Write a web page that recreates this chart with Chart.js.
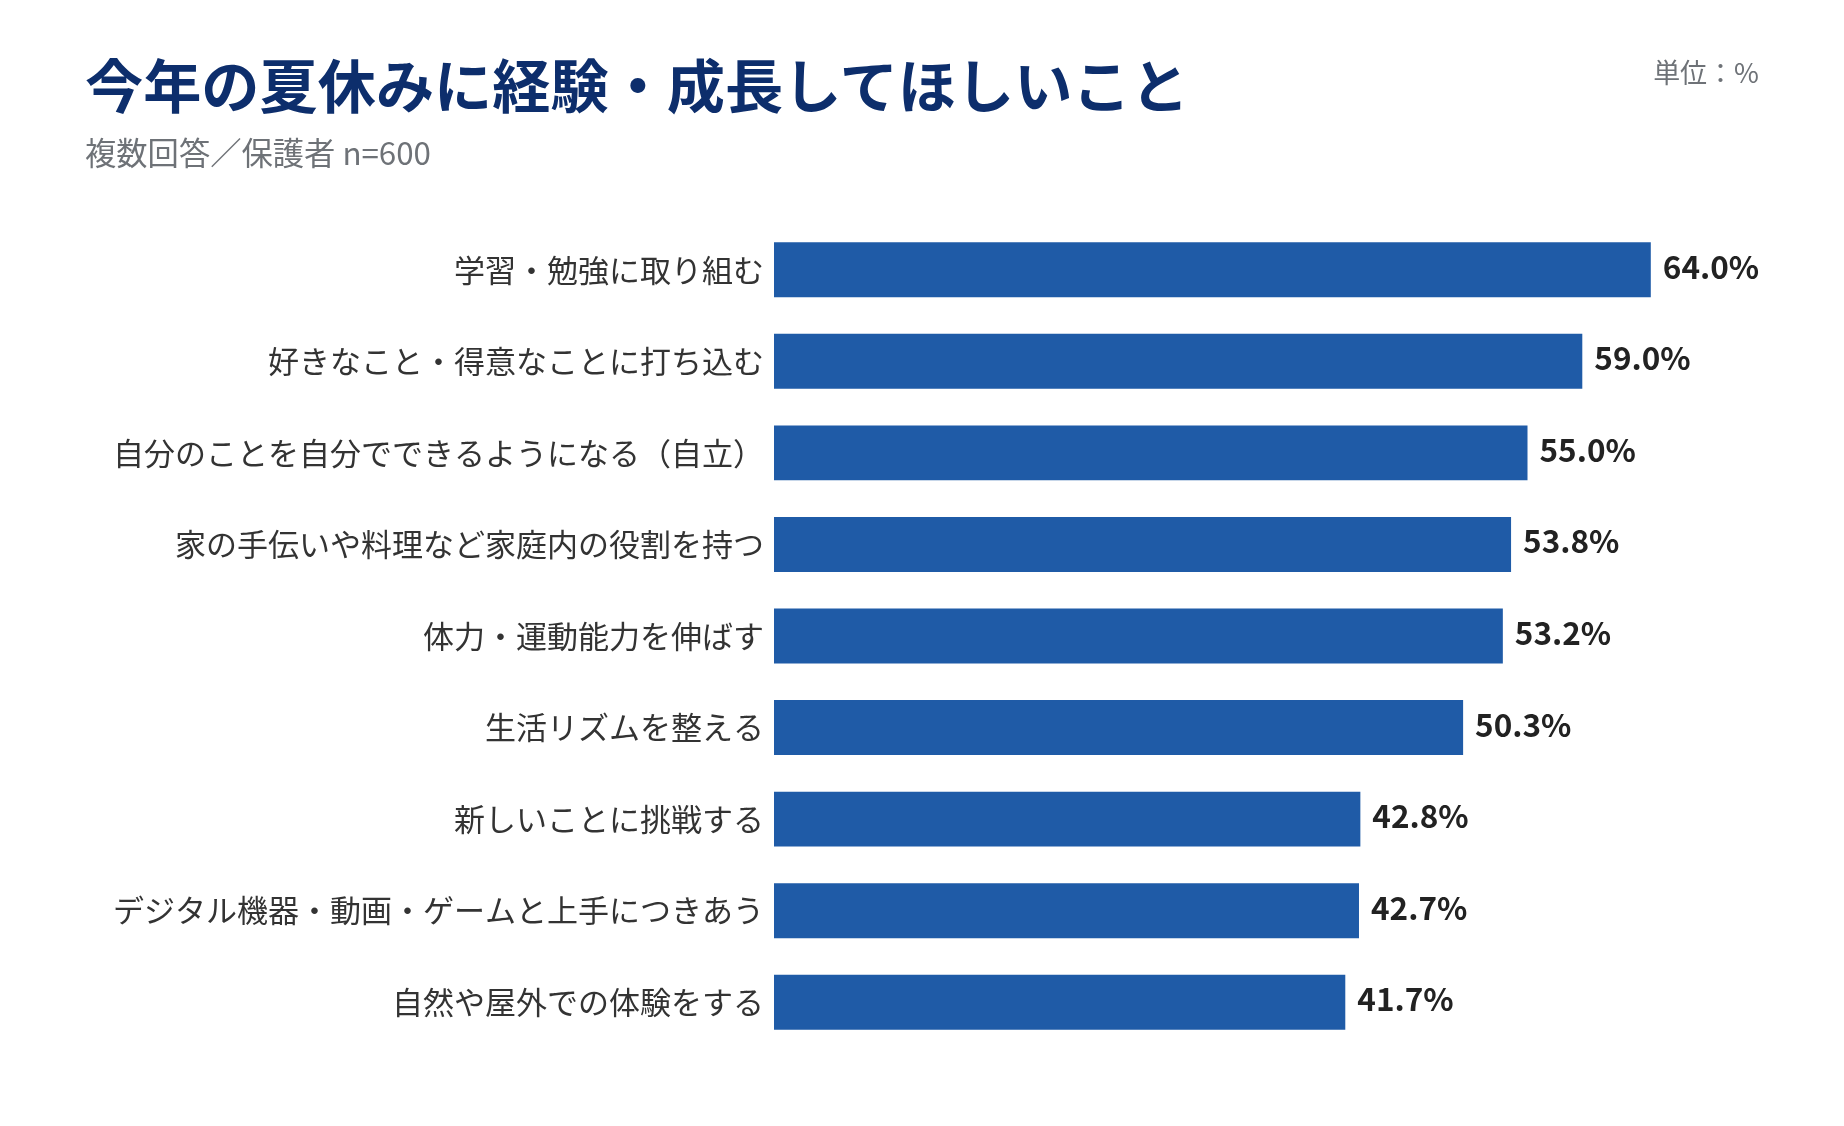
<!DOCTYPE html>
<html lang="ja">
<head>
<meta charset="utf-8">
<title>今年の夏休みに経験・成長してほしいこと</title>
<script src="https://cdn.jsdelivr.net/npm/chart.js@4.4.0/dist/chart.umd.min.js"></script>
<style>
    body { margin: 0; background: #fff; font-family: "Noto Sans CJK JP", "Noto Sans", sans-serif; }
    #wrap { position: relative; width: 1844px; height: 1126px; }
    #title { position: absolute; left: 85px; top: 54px; font-size: 58.2px; line-height: 58px; font-weight: 700; color: #0d2e6c; white-space: nowrap; }
    #sub { position: absolute; left: 85px; top: 136px; font-size: 31.3px; line-height: 31px; color: #6e7277; white-space: nowrap; }
    #unit { position: absolute; right: 85px; top: 58px; font-size: 27px; line-height: 27px; color: #6e7277; white-space: nowrap; }
    canvas { position: absolute; left: 0; top: 0; }
</style>
</head>
<body>
<div id="wrap">
    <canvas id="myChart" width="1844" height="1126"></canvas>
    <div id="title">今年の夏休みに経験・成長してほしいこと</div>
    <div id="sub">複数回答／保護者 n=600</div>
    <div id="unit">単位：%</div>
</div>
<script>
// --------------------------- DATA ---------------------------

const items = [
    '学習・勉強に取り組む',
    '好きなこと・得意なことに打ち込む',
    '自分のことを自分でできるようになる（自立）',
    '家の手伝いや料理など家庭内の役割を持つ',
    '体力・運動能力を伸ばす',
    '生活リズムを整える',
    '新しいことに挑戦する',
    'デジタル機器・動画・ゲームと上手につきあう',
    '自然や屋外での体験をする'
];
const percents = [64.0, 59.0, 55.0, 53.8, 53.2, 50.3, 42.8, 42.7, 41.7];

// --------------------------- CHART RELATED ---------------------------

// value label at the end of each bar
const valueLabels = {
    id: 'valueLabels',
    afterDatasetsDraw(chart) {
        const ctx = chart.ctx;
        const meta = chart.getDatasetMeta(0);
        ctx.save();
        ctx.font = '700 31.5px "Noto Sans CJK JP", sans-serif';
        ctx.fillStyle = '#222222';
        ctx.textAlign = 'left';
        ctx.textBaseline = 'middle';
        meta.data.forEach((bar, i) => {
            ctx.fillText(percents[i].toFixed(1) + '%', bar.x + 12, bar.y - 3);
        });
        ctx.restore();
    }
}; // end valueLabels

let ctx = document.querySelector('#myChart');
let myChart = new Chart(ctx, {
    type: 'bar',
    data: {
        labels: items,
        datasets: [{
            data: percents,
            backgroundColor: '#1f5ba7',
            borderWidth: 0,
            categoryPercentage: 0.6,
            barPercentage: 1
        }]
    },
    options: {
        indexAxis: 'y',
        responsive: false,
        animation: false,
        layout: { padding: { top: 224, bottom: 78, left: 0, right: 111 } },
        plugins: {
            legend: { display: false },
            tooltip: { enabled: false }
        },
        scales: {
            x: {
                display: false,
                min: 0,
                max: 70
            },
            y: {
                afterFit(axis) { axis.width = 774; },
                grid: { display: false, drawTicks: false },
                border: { display: false },
                ticks: {
                    padding: 10,
                    color: '#333333',
                    font: { family: '"Noto Sans CJK JP", sans-serif', size: 31 }
                }
            }
        }
    },
    plugins: [valueLabels]
});
</script>
</body>
</html>
